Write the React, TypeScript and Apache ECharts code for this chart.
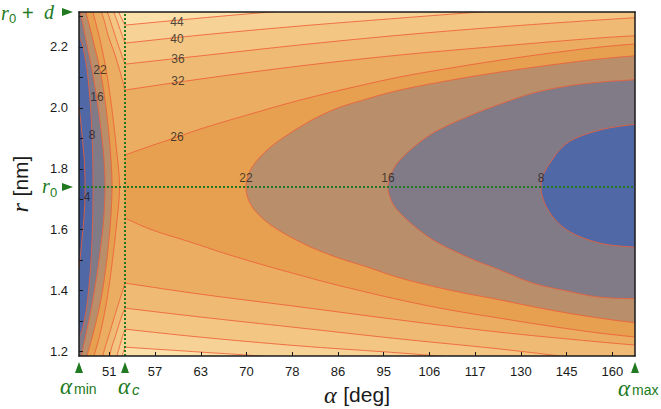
import React, { useEffect, useRef } from 'react';
import * as echarts from 'echarts';

// ---- axes -------------------------------------------------------------
const ALPHA_TICKS = [51, 57, 63, 70, 78, 86, 95, 106, 117, 130, 145, 160];
const ALPHA_TICK_POS = ALPHA_TICKS.map((_, i) => i); // position on the tick scale
const U_MIN = -0.663; // alpha_min
const U_C = 0.343; // alpha_c
const U_MAX = 11.496; // alpha_max
const R_MIN = 1.186;
const R0 = 1.74;
const R_MAX = 2.314; // r0 + d
const R_TICKS = [1.2, 1.3, 1.4, 1.5, 1.6, 1.7, 1.8, 1.9, 2.0, 2.1, 2.2, 2.3];
const R_LABELS = [1.2, 1.4, 1.6, 1.8, 2.0, 2.2];

// ---- contour levels and band colours (below 4 ... above 44) ------------
const LEVELS = [4, 8, 16, 22, 26, 32, 36, 40, 44];
const BAND_COLORS = ['#3d5699', '#5068a6', '#807b87', '#b98f6b', '#e6a050', '#ebad62', '#efba73', '#f3c684', '#f7d296', '#fbe0aa'];

// ---- contour lines [alpha position, r] ---------------------------------
const LEFT_4 = [[-0.706, 2.051], [-0.641, 1.976], [-0.586, 1.894], [-0.542, 1.812], [-0.531, 1.74], [-0.542, 1.668], [-0.586, 1.586], [-0.641, 1.504], [-0.706, 1.428]];
const LEFT_8 = [[-0.719, 2.238], [-0.628, 2.222], [-0.52, 2.156], [-0.44, 2.058], [-0.394, 1.96], [-0.367, 1.861], [-0.356, 1.74], [-0.367, 1.619], [-0.394, 1.52], [-0.44, 1.422], [-0.52, 1.324], [-0.628, 1.258], [-0.719, 1.242]];
const LEFT_16 = [[-0.663, 2.337], [-0.51, 2.222], [-0.378, 2.124], [-0.269, 2.025], [-0.181, 1.927], [-0.116, 1.829], [-0.094, 1.74], [-0.116, 1.651], [-0.181, 1.553], [-0.269, 1.455], [-0.378, 1.356], [-0.51, 1.258], [-0.663, 1.153]];
const LEFT_22 = [[-0.553, 2.337], [-0.356, 2.222], [-0.203, 2.124], [-0.094, 2.025], [-0.017, 1.927], [0.037, 1.829], [0.059, 1.74], [0.037, 1.651], [-0.017, 1.553], [-0.094, 1.455], [-0.203, 1.356], [-0.356, 1.258], [-0.553, 1.153]];
const LEFT_26 = [[-0.4, 2.337], [-0.203, 2.222], [-0.05, 2.107], [0.059, 1.993], [0.147, 1.878], [0.223, 1.74], [0.147, 1.602], [0.059, 1.488], [-0.05, 1.373], [-0.203, 1.258], [-0.4, 1.153]];

const CAP_8 = [[11.714, 1.95], [10.73, 1.927], [10.009, 1.884], [9.637, 1.819], [9.473, 1.773], [9.44, 1.74], [9.473, 1.707], [9.637, 1.655], [10.009, 1.599], [10.73, 1.556], [11.714, 1.54]];
const CAP_16 = [[11.714, 2.094], [10.73, 2.084], [10.009, 2.071], [9.265, 2.048], [8.543, 2.012], [7.822, 1.97], [7.013, 1.911], [6.357, 1.829], [6.182, 1.789], [6.094, 1.74], [6.182, 1.691], [6.357, 1.655], [7.013, 1.573], [7.822, 1.511], [8.543, 1.468], [9.265, 1.425], [10.009, 1.399], [10.73, 1.379], [11.714, 1.373]];
const CAP_22 = [[11.714, 2.173], [10.73, 2.16], [9.637, 2.14], [8.543, 2.117], [7.603, 2.094], [6.357, 2.058], [5.634, 2.029], [4.892, 1.993], [4.236, 1.943], [3.448, 1.861], [3.088, 1.796], [2.989, 1.74], [3.088, 1.684], [3.448, 1.625], [4.17, 1.56], [4.892, 1.514], [5.634, 1.478], [6.357, 1.442], [7.45, 1.402], [8.543, 1.37], [9.637, 1.337], [10.73, 1.31], [11.714, 1.291]];

const UP26_R = [[0.343, 1.845], [0.89, 1.874], [1.48, 1.904], [1.983, 1.93], [3.077, 1.979], [4.17, 2.025], [5.263, 2.065], [6.357, 2.101], [7.45, 2.13], [8.543, 2.156], [9.637, 2.179], [10.73, 2.199], [11.714, 2.212]];
const LO26_R = [[0.343, 1.638], [0.89, 1.602], [1.765, 1.56], [2.639, 1.517], [3.448, 1.481], [4.17, 1.451], [4.892, 1.422], [6.357, 1.37], [7.45, 1.337], [8.543, 1.31], [9.637, 1.284], [10.73, 1.261], [11.714, 1.245]];

const UP32_L = [[-0.225, 2.337], [-0.116, 2.288], [-0.028, 2.238], [0.125, 2.173], [0.256, 2.107], [0.343, 2.058]];
const UP32_R = [[0.343, 2.058], [1.983, 2.094], [4.17, 2.137], [6.357, 2.173], [8.543, 2.202], [10.73, 2.229], [11.714, 2.238]];
const LO32_L = [[-0.181, 1.153], [-0.116, 1.202], [-0.028, 1.245], [0.103, 1.31], [0.234, 1.373], [0.343, 1.425]];
const LO32_R = [[0.343, 1.425], [1.983, 1.389], [4.17, 1.347], [6.357, 1.304], [8.543, 1.264], [10.73, 1.232], [11.714, 1.219]];

const UP36_L = [[-0.094, 2.337], [0.015, 2.288], [0.125, 2.238], [0.234, 2.189], [0.343, 2.143]];
const UP36_R = [[0.343, 2.143], [1.983, 2.17], [4.17, 2.206], [6.357, 2.238], [8.543, 2.265], [10.73, 2.288], [11.714, 2.297]];
const LO36_L = [[-0.028, 1.153], [0.037, 1.206], [0.147, 1.258], [0.256, 1.31], [0.343, 1.343]];
const LO36_R = [[0.343, 1.343], [1.983, 1.314], [4.17, 1.278], [6.357, 1.242], [8.543, 1.209], [9.855, 1.186], [10.73, 1.169]];

const UP40_L = [[0.037, 2.337], [0.147, 2.294], [0.256, 2.248], [0.343, 2.212]];
const UP40_R = [[0.343, 2.212], [1.983, 2.238], [4.17, 2.268], [6.357, 2.294], [8.107, 2.314], [9.855, 2.333]];
const LO40_L = [[0.103, 1.153], [0.19, 1.199], [0.278, 1.245], [0.343, 1.274]];
const LO40_R = [[0.343, 1.274], [1.983, 1.248], [4.17, 1.219], [6.357, 1.196], [7.45, 1.183], [8.543, 1.169]];

const UP44_L = [[0.147, 2.337], [0.234, 2.304], [0.343, 2.271]];
const UP44_R = [[0.343, 2.271], [1.983, 2.294], [3.514, 2.314], [5.051, 2.333]];
const LO44_L = [[0.212, 1.153], [0.278, 1.186], [0.343, 1.215]];
const LO44_R = [[0.343, 1.215], [1.983, 1.199], [3.295, 1.186], [4.607, 1.169]];

// contour labels [alpha position, r, level]
const CONTOUR_LABELS = [
  [-0.488, 1.707, 4], [-0.378, 1.91, 8], [-0.269, 2.035, 16], [-0.203, 2.124, 22],
  [1.48, 1.904, 26], [1.502, 2.088, 32], [1.502, 2.16, 36], [1.48, 2.225, 40], [1.48, 2.281, 44],
  [2.989, 1.769, 22], [6.094, 1.769, 16], [9.44, 1.769, 8],
];

const GREEN = '#217a21';
const LINE_COLOR = 'rgba(238,96,56,0.85)';
const FAR_L = -3;
const FAR_R = 14;

type Part = { pts: number[][]; smooth: boolean };

// centripetal Catmull-Rom through pixel points (drawing only)
function cr(P: number[][], seg = 10): number[][] {
  const n = P.length;
  if (n < 3) return P.slice();
  const out: number[][] = [];
  const d = (a: number[], b: number[]) => Math.max(1e-4, Math.pow(Math.hypot(b[0] - a[0], b[1] - a[1]), 0.5));
  const lerp = (a: number[], b: number[], ta: number, tb: number, t: number) => {
    const w = (t - ta) / (tb - ta);
    return [a[0] + (b[0] - a[0]) * w, a[1] + (b[1] - a[1]) * w];
  };
  for (let i = 0; i < n - 1; i++) {
    const p1 = P[i], p2 = P[i + 1];
    const p0 = i > 0 ? P[i - 1] : [2 * p1[0] - p2[0], 2 * p1[1] - p2[1]];
    const p3 = i + 2 < n ? P[i + 2] : [2 * p2[0] - p1[0], 2 * p2[1] - p1[1]];
    const t0 = 0, t1 = t0 + d(p0, p1), t2 = t1 + d(p1, p2), t3 = t2 + d(p2, p3);
    for (let k = 0; k < seg; k++) {
      const t = t1 + ((t2 - t1) * k) / seg;
      const A1 = lerp(p0, p1, t0, t1, t);
      const A2 = lerp(p1, p2, t1, t2, t);
      const A3 = lerp(p2, p3, t2, t3, t);
      const B1 = lerp(A1, A2, t0, t2, t);
      const B2 = lerp(A2, A3, t1, t3, t);
      out.push(lerp(B1, B2, t1, t2, t));
    }
  }
  out.push(P[n - 1]);
  return out;
}

const last = (a: number[][]) => a[a.length - 1];
const S = (pts: number[][]): Part => ({ pts, smooth: true });
const F = (pts: number[][]): Part => ({ pts, smooth: false });
const rev = (pts: number[][]) => pts.slice().reverse();

function buildShapes() {
  const fills: { parts: Part[]; color: string }[] = [];
  const lines: Part[][] = [];
  const col = (lv: number) => BAND_COLORS[LEVELS.indexOf(lv)];
  fills.push({ parts: [F([[FAR_L, 2.6], [FAR_R, 2.6], [FAR_R, 0.9], [FAR_L, 0.9]])], color: BAND_COLORS[9] });
  const full: [number, number[][], number[][], number[][], number[][]][] = [
    [44, UP44_L, UP44_R, LO44_L, LO44_R],
    [40, UP40_L, UP40_R, LO40_L, LO40_R],
    [36, UP36_L, UP36_R, LO36_L, LO36_R],
    [32, UP32_L, UP32_R, LO32_L, LO32_R],
  ];
  full.forEach(([lv, ul, ur, ll, lr]) => {
    fills.push({
      color: col(lv),
      parts: [
        F([[FAR_L, ul[0][1]]]), S(ul), S(ur), F([[FAR_R, last(ur)[1]], [FAR_R, last(lr)[1]]]),
        S(rev(lr)), S(rev(ll)), F([[FAR_L, ll[0][1]]]),
      ],
    });
    lines.push([S(ul), S(ur)], [S(ll), S(lr)]);
  });
  fills.push({ color: col(26), parts: [F([[FAR_L, LEFT_26[0][1]]]), S(LEFT_26), F([[FAR_L, last(LEFT_26)[1]]])] });
  fills.push({ color: col(26), parts: [S(UP26_R), F([[FAR_R, last(UP26_R)[1]], [FAR_R, last(LO26_R)[1]]]), S(rev(LO26_R))] });
  lines.push([S(LEFT_26)], [S(UP26_R)], [S(LO26_R)]);
  const capped: [number, number[][], number[][] | null][] = [
    [22, LEFT_22, CAP_22],
    [16, LEFT_16, CAP_16],
    [8, LEFT_8, CAP_8],
    [4, LEFT_4, null],
  ];
  capped.forEach(([lv, arc, cap]) => {
    fills.push({ color: col(lv), parts: [F([[FAR_L, arc[0][1]]]), S(arc), F([[FAR_L, last(arc)[1]]])] });
    lines.push([S(arc)]);
    if (cap) {
      fills.push({ color: col(lv), parts: [S(cap), F([[FAR_R, last(cap)[1]], [FAR_R, cap[0][1]]])] });
      lines.push([S(cap)]);
    }
  });
  return { fills, lines };
}

function toPixels(parts: Part[], api: any): number[][] {
  const out: number[][] = [];
  parts.forEach((p) => {
    const px = p.pts.map((q) => api.coord(q));
    (p.smooth ? cr(px) : px).forEach((q) => out.push(q));
  });
  return out;
}

export default function App() {
  const ref = useRef<HTMLDivElement>(null);
  useEffect(() => {
    if (!ref.current) return;
    const chart = echarts.init(ref.current, undefined, { renderer: 'svg' });
    const { fills, lines } = buildShapes();
    const axisLine = { show: true, onZero: false, lineStyle: { color: '#1a1a1a', width: 1.5 } };
    const nameRich = {
      a: { fontFamily: 'Liberation Serif', fontStyle: 'italic', fontSize: 24, color: '#1a1a1a' },
      b: { fontFamily: 'Liberation Sans', fontSize: 21, color: '#1a1a1a' },
    };
    const option: any = {
      animation: false,
      backgroundColor: '#ffffff',
      grid: { left: 79, top: 12, right: 26, bottom: 53, outerBoundsMode: 'none', containLabel: false },
      xAxis: [
        {
          type: 'value', min: U_MIN, max: U_MAX, position: 'bottom', z: 10,
          axisLine,
          axisTick: { show: true, inside: true, length: 4, customValues: ALPHA_TICK_POS, lineStyle: { color: '#1a1a1a', width: 1 } },
          axisLabel: {
            customValues: ALPHA_TICK_POS, margin: 9, color: '#1a1a1a', fontSize: 13, fontFamily: 'Liberation Sans',
            formatter: (v: number) => String(ALPHA_TICKS[Math.round(v)]),
          },
          splitLine: { show: false },
          name: '{a|α}  {b|[deg]}', nameLocation: 'middle', nameGap: 23,
          nameTextStyle: { color: '#1a1a1a', rich: nameRich },
        },
        { type: 'value', min: U_MIN, max: U_MAX, position: 'top', z: 10, axisLine, axisTick: { show: false }, axisLabel: { show: false }, splitLine: { show: false } },
      ],
      yAxis: [
        {
          type: 'value', min: R_MIN, max: R_MAX, position: 'left', z: 10,
          axisLine,
          axisTick: { show: true, inside: true, length: 4, customValues: R_TICKS, lineStyle: { color: '#1a1a1a', width: 1 } },
          axisLabel: { customValues: R_LABELS, margin: 11, color: '#1a1a1a', fontSize: 13, fontFamily: 'Liberation Sans', formatter: (v: number) => v.toFixed(1) },
          splitLine: { show: false },
          name: '{a|r}  {b|[nm]}', nameLocation: 'middle', nameGap: 47, nameRotate: 90,
          nameTextStyle: { color: '#1a1a1a', rich: nameRich },
        },
        { type: 'value', min: R_MIN, max: R_MAX, position: 'right', z: 10, axisLine, axisTick: { show: false }, axisLabel: { show: false }, splitLine: { show: false } },
      ],
      series: [
        {
          type: 'custom', name: 'fills', clip: true, silent: true, z: 1,
          data: fills.map((_, i) => [U_C, R0, i]),
          encode: { x: 0, y: 1 },
          renderItem: (_p: any, api: any) => {
            const f = fills[api.value(2)];
            return { type: 'polygon', shape: { points: toPixels(f.parts, api) }, style: { fill: f.color, stroke: f.color, lineWidth: 0.3 } };
          },
        },
        {
          type: 'custom', name: 'contours', clip: true, silent: true, z: 2,
          data: lines.map((_, i) => [U_C, R0, i]),
          encode: { x: 0, y: 1 },
          renderItem: (_p: any, api: any) => {
            const l = lines[api.value(2)];
            return { type: 'polyline', shape: { points: toPixels(l, api) }, style: { stroke: LINE_COLOR, lineWidth: 1, fill: null } };
          },
        },
        {
          type: 'line', name: 'r0', data: [[U_MIN, R0], [U_MAX, R0]], symbol: 'none', z: 3, silent: true,
          lineStyle: { color: GREEN, width: 2, type: [2, 2] },
        },
        {
          type: 'line', name: 'alpha_c', data: [[U_C, R_MIN], [U_C, R_MAX]], symbol: 'none', z: 3, silent: true,
          lineStyle: { color: GREEN, width: 2, type: [2, 2] },
        },
        {
          type: 'scatter', name: 'labels', z: 4, silent: true, symbolSize: 1,
          itemStyle: { color: 'rgba(0,0,0,0)' },
          data: CONTOUR_LABELS,
          label: { show: true, position: 'inside', formatter: (p: any) => String(p.value[2]), color: '#1e1e1e', fontSize: 12, fontFamily: 'Liberation Sans' },
        },
      ],
    };
    chart.setOption(option);

    const px = (u: number, r: number) => chart.convertToPixel({ xAxisIndex: 0, yAxisIndex: 0 }, [u, r]) as number[];
    const L = px(U_MIN, R0);
    const T = px(U_MIN, R_MAX);
    const Bmin = px(U_MIN, R_MIN);
    const Bc = px(U_C, R_MIN);
    const Bmax = px(U_MAX, R_MIN);
    const tri = (pts: number[][]) => ({ type: 'polygon', shape: { points: pts }, style: { fill: GREEN }, z: 100 });
    const txt = (x: number, y: number, text: string, size: number, italic: boolean, family: string, lh?: number) => ({
      type: 'text', x, y, z: 100,
      style: {
        text, fontSize: size, fontStyle: italic ? 'italic' : 'normal', fontFamily: family, fill: GREEN,
        align: 'left', verticalAlign: 'middle', lineHeight: lh || Math.round(size * 1.2),
      },
    });
    const SERIF = 'Liberation Serif';
    const SANS = 'Liberation Sans';
    const rightTri = (x: number, y: number) => tri([[x - 17, y - 4], [x - 6, y], [x - 17, y + 4]]);
    const upTri = (x: number, y: number) => tri([[x - 4, y + 17], [x, y + 6], [x + 4, y + 17]]);
    const graphic = [
      rightTri(T[0], T[1]),
      txt(T[0] - 78, T[1] + 1, 'r', 20, true, SERIF),
      txt(T[0] - 70, T[1] + 6, '0', 13, false, SANS),
      txt(T[0] - 57, T[1] + 1, '+', 20, false, SANS),
      txt(T[0] - 35, T[1] + 0, 'd', 20, true, SERIF),
      rightTri(L[0], L[1]),
      txt(L[0] - 37, L[1] - 1, 'r', 20, true, SERIF),
      txt(L[0] - 29, L[1] + 5, '0', 13, false, SANS),
      upTri(Bmin[0], Bmin[1]),
      txt(Bmin[0] - 19, Bmin[1] + 30, 'α', 23, true, SERIF, 13),
      txt(Bmin[0] - 5, Bmin[1] + 33, 'min', 14, false, SANS),
      upTri(Bc[0], Bc[1]),
      txt(Bc[0] - 7, Bc[1] + 30, 'α', 23, true, SERIF, 13),
      txt(Bc[0] + 7, Bc[1] + 33, 'c', 15, true, SANS),
      upTri(Bmax[0], Bmax[1]),
      txt(Bmax[0] - 17, Bmax[1] + 32, 'α', 23, true, SERIF, 13),
      txt(Bmax[0] - 3, Bmax[1] + 34, 'max', 14, false, SANS),
    ];
    chart.setOption({ graphic });
    return () => chart.dispose();
  }, []);
  return <div ref={ref} style={{ position: 'fixed', left: 0, top: 0, width: 661, height: 409 }} />;
}
